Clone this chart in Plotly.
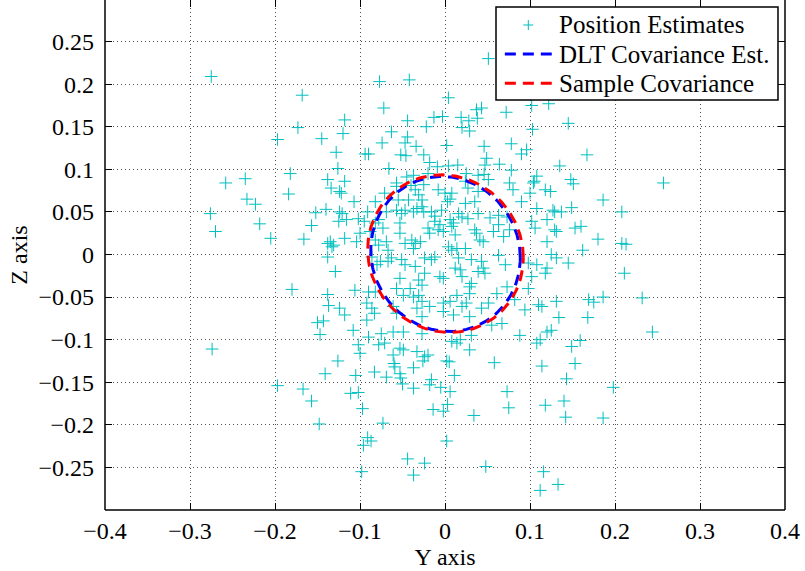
import numpy as np
import plotly.graph_objects as go

# ---------------- data ----------------
pos_y = [
    -0.275, -0.168, -0.173, -0.197, -0.145, -0.182, -0.235, -0.258,
    -0.184, -0.233, -0.223, -0.276, -0.152, -0.140, -0.218, -0.157, -0.270, -0.205, -0.166, -0.138,
    -0.138, -0.180, -0.138, -0.137, -0.143, -0.150, -0.147, -0.274,
    -0.197, -0.167, -0.157, -0.148, -0.141,
    0.051, -0.077, -0.042, 0.004, -0.072, 0.037, 0.043, 0.072, 0.102, 0.122, -0.118, -0.044, -0.013,
    -0.003, 0.019, 0.028, 0.038, -0.022, 0.020, 0.029, -0.120, -0.063, -0.044, 0.103, -0.074, -0.047,
    -0.034, 0.002, 0.046, 0.078, -0.128, -0.094, -0.090, -0.052, -0.046, -0.025, 0.049, 0.090, 0.096,
    -0.018, -0.126, -0.066, -0.009, 0.004, 0.015, 0.047, 0.064, 0.078, -0.138, -0.118, -0.057, -0.045,
    -0.037, -0.020, 0.025, 0.039, 0.046, 0.051, 0.108, 0.105, 0.135,
    0.145, 0.167, 0.148, 0.151, 0.257,
    0.186, 0.149, 0.137, 0.129, 0.208, 0.131, 0.153, 0.160, 0.180, 0.208, 0.213, 0.162, 0.131, 0.145,
    0.211, 0.131, 0.169, 0.175, 0.186, 0.232, 0.134, 0.168, 0.244, 0.159, 0.149, 0.153,
    0.143, 0.198, 0.140, 0.142, 0.186, 0.133,
    -0.126, -0.105, -0.083, -0.069, -0.060, -0.059, -0.053, -0.052, -0.050, -0.037, -0.026, -0.037,
    -0.016, -0.018, -0.005, 0.002, 0.005, 0.011, 0.006, 0.058, 0.114, -0.111, -0.102, -0.097, 0.003,
    -0.014, -0.002, 0.073, 0.075, 0.118, 0.034, -0.073, -0.091, -0.087, -0.096, 0.002, -0.044, -0.024,
    -0.037, -0.098, 0.048, 0.116, 0.112,
    -0.134, -0.124, -0.122, -0.107, -0.124, -0.121, -0.091, -0.116, -0.102, -0.125, -0.095, -0.082,
    -0.071, -0.057, -0.040, -0.035, -0.031, -0.025, -0.055, -0.043, -0.027, -0.008, 0.000, 0.008,
    0.006, 0.003, 0.024, 0.027, 0.039, 0.024, 0.035, 0.076, 0.080, 0.090, 0.100, 0.104, 0.118, 0.124,
    0.108, 0.127, 0.053, 0.063, 0.073, 0.027, 0.039, 0.016, 0.020, -0.004, -0.016, -0.012, -0.027,
    -0.025, -0.037, -0.033, -0.047, -0.051, -0.057, -0.069, -0.078, -0.082, -0.073, -0.053, -0.088,
    -0.100, -0.104, -0.118, -0.135, -0.131, -0.133, -0.082, -0.078, -0.069, -0.067, -0.053, -0.047,
    -0.039, -0.035, -0.029, -0.037, -0.020, -0.018, -0.008, -0.002, -0.012, -0.006, 0.006, 0.010,
    0.008, 0.012, 0.004, 0.014, 0.008, 0.024, 0.035, 0.037, 0.041, 0.045, 0.057, 0.063, 0.069, 0.076,
    0.102, 0.106, 0.120, 0.129, 0.120, 0.125,
    -0.129, -0.086, -0.080, -0.076, -0.067, -0.063, -0.051, -0.047, -0.053, -0.035, -0.024, -0.016,
    -0.012, -0.024, -0.031, -0.027, -0.006, -0.002, 0.016, 0.012, 0.018, 0.020, 0.031, 0.043, 0.045,
    0.039, 0.047, 0.031, 0.029, 0.063, 0.071, 0.098, 0.108, 0.120, 0.118, 0.102, -0.124, -0.118,
    -0.106, -0.090, -0.082, -0.092, -0.086, -0.083, -0.092, -0.057, -0.049, -0.041, -0.037, -0.027,
    -0.027, -0.018, -0.031, -0.002, 0.006, -0.002, 0.010, 0.020, 0.025, 0.014, 0.029, 0.043, 0.051,
    0.061, 0.073, 0.082, 0.094, 0.098, 0.110, 0.114, 0.120, 0.125, 0.088, 0.067, 0.055, 0.029, 0.031,
    0.008, 0.014, 0.018, 0.029, 0.108, 0.112, -0.024, -0.020, -0.033, -0.061, -0.053, -0.049, -0.049,
    -0.061, -0.075, -0.090, -0.071, -0.078, -0.102, -0.100, -0.108, -0.027, -0.061, -0.057, -0.033,
]
pos_z = [
    0.209, 0.187, 0.149, 0.135, 0.136, 0.095, 0.089, 0.084,
    0.071, 0.065, 0.059, 0.048, 0.049, 0.053, 0.036, 0.034, 0.027, 0.019, 0.018, 0.013,
    -0.003, -0.041, -0.047, -0.060, -0.078, -0.080, -0.094, -0.111,
    -0.154, -0.158, -0.172, -0.199, -0.140,
    0.230, 0.203, 0.205, 0.184, 0.172, 0.170, 0.172, 0.167, 0.175, 0.177, 0.158, 0.157, 0.161,
    0.162, 0.161, 0.157, 0.160, 0.150, 0.149, 0.145, 0.142, 0.144, 0.138, 0.147, 0.131, 0.131,
    0.127, 0.128, 0.127, 0.130, 0.120, 0.118, 0.118, 0.117, 0.116, 0.117, 0.113, 0.118, 0.123,
    0.108, 0.101, 0.101, 0.103, 0.104, 0.105, 0.105, 0.106, 0.099, 0.088, 0.086, 0.084, 0.091,
    0.093, 0.095, 0.095, 0.093, 0.094, 0.088, 0.092, 0.086, 0.104,
    0.154, 0.117, 0.088, 0.083, 0.084,
    0.064, 0.055, 0.050, 0.050, 0.050, 0.027, 0.031, 0.033, 0.018, 0.013, 0.012, 0.005, -0.004, -0.010,
    -0.022, -0.055, -0.053, -0.056, -0.050, -0.051, -0.074, -0.074, -0.091, -0.101, -0.108, -0.128,
    -0.146, -0.156, -0.172, -0.191, -0.192, -0.270,
    -0.125, -0.142, -0.138, -0.144, -0.128, -0.132, -0.140, -0.145, -0.152, -0.133, -0.125, -0.157,
    -0.147, -0.153, -0.156, -0.125, -0.126, -0.142, -0.161, -0.127, -0.131, -0.163, -0.162, -0.181, -0.176,
    -0.182, -0.184, -0.161, -0.180, -0.177, -0.189, -0.198, -0.215, -0.219, -0.224, -0.219, -0.240, -0.245,
    -0.259, -0.255, -0.249, -0.255, -0.277,
    0.078, 0.074, 0.072, 0.062, 0.050, 0.048, 0.050, 0.041, 0.042, 0.039, 0.039, 0.062,
    0.072, 0.080, 0.081, 0.076, 0.070, 0.082, 0.064, 0.064, 0.064, 0.076, 0.072, 0.072,
    0.065, 0.062, 0.086, 0.078, 0.074, 0.060, 0.062, 0.084, 0.076, 0.062, 0.072, 0.084, 0.076, 0.074,
    0.054, 0.052, 0.043, 0.046, 0.044, 0.042, 0.048, 0.048, 0.044, 0.052, 0.050, 0.045, 0.056,
    0.050, 0.050, 0.054, 0.052, 0.048, 0.052, 0.050, 0.041, 0.037, 0.031, 0.037, 0.027,
    0.025, 0.015, 0.019, 0.015, 0.011, 0.009, 0.017, 0.011, 0.015, 0.005, 0.025, 0.013,
    0.017, 0.013, 0.015, 0.007, 0.031, 0.025, 0.029, 0.027, 0.039, 0.035, 0.041, 0.037,
    0.033, 0.023, 0.009, 0.007, 0.005, 0.007, 0.029, 0.025, 0.017, 0.015, 0.027, 0.035, 0.021, 0.029,
    0.039, 0.031, 0.041, 0.029, 0.015, 0.000,
    -0.020, -0.003, -0.012, -0.008, -0.008, -0.004, -0.006, -0.012, -0.028, -0.014, -0.004, -0.006,
    -0.003, -0.022, -0.030, -0.036, -0.026, -0.028, -0.004, -0.016, -0.018, -0.026, -0.006, -0.008, -0.016,
    -0.020, -0.022, -0.034, -0.038, -0.001, -0.012, -0.010, -0.012, -0.016, -0.022, -0.026, -0.063, -0.071,
    -0.042, -0.044, -0.044, -0.057, -0.063, -0.069, -0.077, -0.040, -0.048, -0.040, -0.050, -0.055,
    -0.073, -0.061, -0.048, -0.057, -0.055, -0.067, -0.071, -0.061, -0.057, -0.048, -0.046, -0.063, -0.057,
    -0.046, -0.038, -0.053, -0.065, -0.040, -0.059, -0.061, -0.091, -0.089, -0.095, -0.081, -0.083, -0.073, -0.095,
    -0.102, -0.104, -0.100, -0.112, -0.104, -0.100, -0.120, -0.118, -0.114, -0.118, -0.110, -0.112, -0.091,
    -0.091, -0.093, -0.097, -0.104, -0.106, -0.106, -0.116, -0.089, -0.093, -0.061, -0.069, -0.063,
]

# 1-sigma ellipse parameters: centre (Y, Z) and matrix [[YY, YZ], [YZ, ZZ]]
dlt_center = [0.0006, 0.0006]
dlt_cov = [[0.00774, -0.00040], [-0.00040, 0.00828]]
sample_center = [0.0006, 0.0010]
sample_cov = [[0.00838, -0.00045], [-0.00045, 0.00856]]

series_names = ["Position Estimates", "DLT Covariance Est.", "Sample Covariance"]

x_ticks = [-0.4, -0.3, -0.2, -0.1, 0, 0.1, 0.2, 0.3, 0.4]
x_labels = ["\u22120.4", "\u22120.3", "\u22120.2", "\u22120.1", "0", "0.1", "0.2", "0.3", "0.4"]
y_ticks = [-0.25, -0.2, -0.15, -0.1, -0.05, 0, 0.05, 0.1, 0.15, 0.2, 0.25]
y_labels = ["\u22120.25", "\u22120.2", "\u22120.15", "\u22120.1", "\u22120.05", "0",
            "0.05", "0.1", "0.15", "0.2", "0.25"]

CYAN = "#00BFBF"
BLUE = "#0000FF"
RED = "#FF0000"
DASH = "11px,7px"
FONT = "Liberation Serif"


def ellipse(center, cov, n=240):
    t = np.linspace(0, 2 * np.pi, n)
    L = np.linalg.cholesky(np.array(cov))
    pts = L @ np.vstack([np.cos(t), np.sin(t)])
    return center[0] + pts[0], center[1] + pts[1]


fig = go.Figure()
fig.add_trace(go.Scatter(
    x=pos_y, y=pos_z, mode="markers", name=series_names[0],
    marker=dict(symbol="cross-thin", size=9, color=CYAN, line=dict(width=1, color=CYAN)),
))
ex, ez = ellipse(dlt_center, dlt_cov)
fig.add_trace(go.Scatter(x=ex, y=ez, mode="lines", name=series_names[1],
                         line=dict(color=BLUE, width=3, dash=DASH)))
ex, ez = ellipse(sample_center, sample_cov)
fig.add_trace(go.Scatter(x=ex, y=ez, mode="lines", name=series_names[2],
                         line=dict(color=RED, width=3, dash=DASH)))

axis_common = dict(
    showline=False, mirror="ticks", ticks="inside", ticklen=7, tickwidth=1,
    tickcolor="black", showgrid=True, gridcolor="#555555", gridwidth=1,
    griddash="1px,3px", zeroline=False,
    tickfont=dict(family=FONT, size=24, color="black"),
)
fig.update_xaxes(range=[-0.4, 0.4], tickvals=x_ticks, ticktext=x_labels,
                 ticklabelstandoff=4,
                 title=dict(text="Y axis", font=dict(family=FONT, size=24, color="black"), standoff=0),
                 **axis_common)
fig.update_yaxes(range=[-0.3, 0.2988], tickvals=y_ticks, ticktext=y_labels,
                 ticklabelstandoff=10,
                 title=dict(text="Z axis", font=dict(family=FONT, size=24, color="black"), standoff=4),
                 **axis_common)

# axis box (bottom, left, right; top edge is cropped in the reference)
line_style = dict(color="black", width=1.5)
fig.add_shape(type="line", xref="paper", yref="paper", x0=0, x1=1, y0=0, y1=0, line=line_style)
fig.add_shape(type="line", xref="paper", yref="paper", x0=0, x1=0, y0=0, y1=1, line=line_style)
fig.add_shape(type="line", xref="paper", yref="paper", x0=1, x1=1, y0=0, y1=1, line=line_style)

# ---- MATLAB-style compact legend (box, samples, labels) ----
leg_box = dict(x0=0.575, x1=0.9897, y0=0.8039, y1=0.9863)
leg_rows = [0.951, 0.894, 0.837]
leg_sample = (0.588, 0.657)
leg_text_x = 0.6647
fig.add_shape(type="rect", xref="paper", yref="paper", fillcolor="white",
              line=dict(color="black", width=1.5), **leg_box)
mid = (leg_sample[0] + leg_sample[1]) / 2
fig.add_shape(type="line", xref="paper", yref="paper", xsizemode="pixel", xanchor=mid,
              x0=-5, x1=5, y0=leg_rows[0], y1=leg_rows[0], line=dict(color=CYAN, width=1))
fig.add_shape(type="line", xref="paper", yref="paper", ysizemode="pixel", yanchor=leg_rows[0],
              x0=mid, x1=mid, y0=-5, y1=5, line=dict(color=CYAN, width=1))
for row, col in ((leg_rows[1], BLUE), (leg_rows[2], RED)):
    fig.add_shape(type="line", xref="paper", yref="paper", x0=leg_sample[0], x1=leg_sample[1],
                  y0=row, y1=row, line=dict(color=col, width=3, dash=DASH))
for row, name in zip(leg_rows, series_names):
    fig.add_annotation(xref="paper", yref="paper", x=leg_text_x, y=row, text=name,
                       xanchor="left", yanchor="middle", showarrow=False,
                       font=dict(family=FONT, size=25, color="black"))

fig.update_layout(
    width=805, height=571,
    margin=dict(l=105, r=20, t=0, b=61),
    paper_bgcolor="white", plot_bgcolor="white",
    font=dict(family=FONT, size=24, color="black"),
    showlegend=False,
)

fig.write_html("out.html")
